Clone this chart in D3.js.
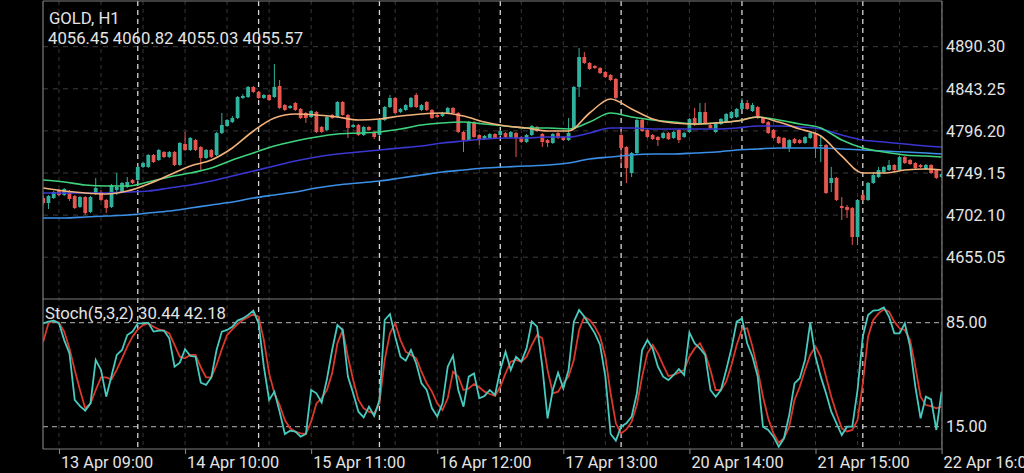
<!DOCTYPE html>
<html><head><meta charset="utf-8">
<script src="https://cdn.jsdelivr.net/npm/d3@7"></script>
<style>
html,body{margin:0;padding:0;background:#000;overflow:hidden}
svg{display:block}
text{font-family:Roboto,"Noto Sans",sans-serif}
</style>
</head><body>
<svg id="c" width="1024" height="473"></svg>
<script>
// ---------------- DATA ----------------
const symbolText = "GOLD, H1";
const ohlcText = "4056.45 4060.82 4055.03 4055.57";
const stochText = "Stoch(5,3,2) 30.44 42.18";

// hourly candles, index 0 = 13 Apr 06:00 ... index 171 = 22 Apr 16:00
const open = [
4721.2,4715.6,4721.2,4730.2,4724.6,4729.0,4723.4,4711.2,4722.3,4705.6,
4726.8,4727.9,4719.0,4711.2,4730.2,4727.9,4733.5,4741.3,4741.3,4755.9,
4755.9,4769.3,4763.7,4772.6,4767.0,4772.6,4758.1,4781.6,4774.9,4786.0,
4778.2,4765.9,4774.9,4769.3,4793.8,4801.7,4806.1,4810.6,4833.0,4834.1,
4845.3,4839.7,4833.0,4836.3,4834.1,4846.4,4825.1,4821.8,4827.4,4820.7,
4816.2,4811.7,4817.3,4800.6,4797.2,4814.0,4811.7,4828.5,4814.0,4800.6,
4802.8,4791.6,4800.6,4795.0,4791.6,4808.4,4822.9,4833.0,4817.3,4819.6,
4822.9,4836.3,4819.6,4828.5,4819.6,4814.0,4812.9,4816.2,4821.8,4816.2,
4795.0,4786.0,4806.1,4791.6,4787.1,4788.3,4792.7,4791.6,4793.8,4789.4,
4793.8,4789.4,4783.8,4791.6,4800.6,4792.7,4786.0,4782.7,4793.8,4789.4,
4786.0,4799.4,4845.3,4878.8,4872.1,4868.7,4866.5,4862.0,4858.7,4854.2,
4791.6,4778.2,4749.1,4771.5,4808.4,4797.2,4791.6,4789.4,4788.3,4793.8,
4788.3,4797.2,4789.4,4795.0,4810.6,4805.0,4817.3,4802.8,4795.0,4803.9,
4806.1,4810.6,4811.7,4820.7,4827.4,4818.4,4822.9,4810.6,4806.1,4797.2,
4789.4,4788.3,4777.1,4787.1,4786.0,4782.7,4788.3,4793.8,4779.3,4780.4,
4738.0,4743.6,4712.3,4711.2,4710.0,4677.6,4724.6,4719.0,4738.0,4744.7,
4750.3,4752.5,4758.1,4752.5,4767.0,4763.7,4760.3,4758.1,4753.6,4758.1,
4752.5,4744.7];
const high = [
4723.4,4724.6,4729.0,4731.3,4732.4,4730.2,4724.6,4723.4,4723.4,4723.4,
4743.6,4730.2,4720.1,4736.9,4749.1,4739.1,4744.7,4742.4,4757.0,4761.4,
4770.4,4770.4,4776.0,4773.7,4773.7,4773.7,4783.8,4795.0,4789.4,4787.1,
4779.3,4776.0,4776.0,4795.0,4816.2,4809.5,4812.9,4835.2,4837.4,4846.4,
4846.4,4840.8,4837.4,4837.4,4871.0,4853.1,4826.3,4825.1,4828.5,4821.8,
4817.3,4819.6,4818.4,4801.7,4812.9,4815.1,4829.6,4829.6,4815.1,4803.9,
4803.9,4801.7,4801.7,4796.1,4809.5,4824.0,4836.3,4834.1,4821.8,4826.3,
4834.1,4838.6,4826.3,4829.6,4820.7,4815.1,4817.3,4822.9,4822.9,4817.3,
4796.1,4807.3,4807.3,4792.7,4791.6,4793.8,4793.8,4797.2,4795.0,4796.1,
4795.0,4790.5,4792.7,4802.8,4801.7,4793.8,4787.1,4793.8,4795.0,4790.5,
4810.6,4846.4,4888.9,4884.4,4873.2,4869.8,4867.6,4863.1,4859.8,4855.3,
4797.2,4779.3,4772.6,4809.5,4809.5,4798.3,4792.7,4790.5,4795.0,4795.0,
4796.1,4798.3,4795.0,4810.6,4821.8,4827.4,4827.4,4803.9,4806.1,4810.6,
4816.2,4818.4,4821.8,4833.0,4830.7,4827.4,4824.0,4811.7,4807.3,4798.3,
4790.5,4789.4,4787.1,4788.3,4787.1,4790.5,4795.0,4795.0,4791.6,4781.6,
4755.9,4744.7,4722.3,4713.4,4711.2,4720.1,4725.7,4739.1,4750.3,4755.9,
4757.0,4763.7,4759.2,4768.1,4768.1,4764.8,4761.4,4759.2,4759.2,4759.2,
4753.6,4749.1];
const low = [
4713.4,4708.9,4720.1,4723.4,4723.4,4717.9,4708.9,4710.0,4702.2,4704.4,
4724.6,4717.9,4704.4,4710.0,4724.6,4726.8,4732.4,4736.9,4739.1,4754.7,
4754.7,4760.3,4762.6,4765.9,4765.9,4757.0,4757.0,4773.7,4773.7,4773.7,
4752.5,4764.8,4765.9,4768.1,4792.7,4800.6,4805.0,4809.5,4831.9,4833.0,
4838.6,4831.9,4831.9,4829.6,4833.0,4820.7,4818.4,4820.7,4818.4,4809.5,
4805.0,4810.6,4793.8,4793.8,4796.1,4809.5,4810.6,4812.9,4788.3,4799.4,
4790.5,4790.5,4796.1,4787.1,4790.5,4807.3,4821.8,4815.1,4816.2,4818.4,
4821.8,4821.8,4818.4,4818.4,4809.5,4810.6,4811.7,4815.1,4815.1,4793.8,
4772.6,4784.9,4788.3,4780.4,4786.0,4787.1,4787.1,4790.5,4788.3,4788.3,
4767.0,4782.7,4782.7,4790.5,4795.0,4778.2,4778.2,4781.6,4787.1,4784.9,
4784.9,4798.3,4834.1,4871.0,4864.3,4865.4,4859.8,4855.3,4852.0,4831.9,
4758.1,4738.0,4744.7,4770.4,4795.0,4788.3,4786.0,4779.3,4787.1,4786.0,
4787.1,4782.7,4788.3,4793.8,4801.7,4803.9,4803.9,4798.3,4793.8,4802.8,
4805.0,4809.5,4810.6,4819.6,4819.6,4817.3,4809.5,4803.9,4792.7,4787.1,
4781.6,4776.0,4772.6,4781.6,4781.6,4781.6,4787.1,4765.9,4761.4,4725.7,
4727.9,4717.9,4696.6,4698.9,4668.7,4668.7,4717.9,4717.9,4736.9,4743.6,
4749.1,4751.4,4751.4,4751.4,4759.2,4758.1,4753.6,4754.7,4752.5,4748.0,
4742.4,4743.6];
const close = [
4715.6,4723.4,4727.9,4724.6,4731.3,4720.1,4710.0,4722.3,4704.4,4722.3,
4732.4,4719.0,4710.0,4735.7,4733.5,4738.0,4739.1,4738.0,4755.9,4760.3,
4769.3,4761.4,4774.9,4767.0,4772.6,4758.1,4782.7,4774.9,4788.3,4774.9,
4765.9,4774.9,4767.0,4793.8,4802.8,4808.4,4810.6,4834.1,4835.2,4845.3,
4839.7,4833.0,4836.3,4830.7,4845.3,4821.8,4819.6,4824.0,4819.6,4810.6,
4810.6,4818.4,4795.0,4795.0,4811.7,4810.6,4828.5,4814.0,4799.4,4802.8,
4791.6,4800.6,4797.2,4789.4,4808.4,4822.9,4833.0,4816.2,4820.7,4825.1,
4833.0,4822.9,4825.1,4819.6,4810.6,4811.7,4816.2,4821.8,4816.2,4795.0,
4786.0,4806.1,4789.4,4786.0,4790.5,4792.7,4788.3,4796.1,4789.4,4795.0,
4788.3,4783.8,4791.6,4801.7,4796.1,4783.8,4782.7,4792.7,4788.3,4786.0,
4793.8,4845.3,4878.8,4872.1,4865.4,4866.5,4860.9,4856.4,4853.1,4833.0,
4777.1,4754.7,4771.5,4808.4,4796.1,4789.4,4787.1,4786.0,4793.8,4787.1,
4795.0,4786.0,4793.8,4809.5,4802.8,4817.3,4805.0,4799.4,4805.0,4809.5,
4815.1,4817.3,4820.7,4827.4,4820.7,4825.1,4810.6,4805.0,4793.8,4788.3,
4782.7,4777.1,4786.0,4782.7,4782.7,4789.4,4793.8,4777.1,4780.4,4726.8,
4743.6,4719.0,4710.0,4707.8,4677.6,4719.0,4719.0,4738.0,4746.9,4752.5,
4755.9,4758.1,4752.5,4767.0,4760.3,4759.2,4754.7,4755.9,4758.1,4749.1,
4743.6,4748.0];

// moving averages, read at these bar indices
const maIdx = [0,4,8,12,16,20,24,28,32,36,40,44,48,52,56,60,64,68,72,76,80,84,88,92,96,100,104,108,112,116,120,124,128,132,136,140,144,148,152,156,160,164,168,171];
const maFast = [4732.4,4729.0,4726.8,4725.7,4729.0,4736.9,4746.9,4757.0,4763.7,4777.1,4796.1,4810.6,4815.1,4814.0,4811.7,4808.4,4809.5,4812.9,4815.1,4816.2,4812.9,4806.1,4801.7,4799.4,4796.1,4796.1,4816.2,4831.9,4820.7,4809.5,4805.0,4803.9,4805.0,4807.3,4811.7,4806.1,4798.3,4790.5,4768.1,4749.1,4749.1,4752.5,4753.6,4752.5];
const maMid = [4741.3,4739.1,4735.7,4734.6,4734.6,4739.1,4744.7,4749.1,4754.7,4763.7,4771.5,4779.3,4784.9,4789.4,4792.7,4793.8,4795.0,4798.3,4802.8,4805.0,4806.1,4803.9,4801.7,4799.4,4799.4,4798.3,4806.1,4816.2,4811.7,4808.4,4806.1,4803.9,4805.0,4807.3,4811.7,4808.4,4803.9,4799.4,4786.0,4777.1,4772.6,4769.3,4768.1,4767.0];
const maSlow = [4726.8,4726.8,4726.8,4726.8,4727.9,4729.0,4732.4,4735.7,4740.2,4745.8,4751.4,4757.0,4762.6,4767.0,4770.4,4772.6,4774.9,4777.1,4779.3,4782.7,4784.9,4787.1,4788.3,4788.3,4789.4,4789.4,4793.8,4799.4,4799.4,4798.3,4798.3,4798.3,4798.3,4799.4,4801.7,4801.7,4800.6,4798.3,4791.6,4786.0,4783.8,4781.6,4779.3,4778.2];
const maLong = [4698.9,4698.9,4700.0,4701.1,4702.2,4704.4,4706.7,4710.0,4713.4,4716.7,4721.2,4724.6,4727.9,4732.4,4735.7,4738.0,4740.2,4743.6,4746.9,4750.3,4752.5,4754.7,4755.9,4757.0,4758.1,4760.3,4764.8,4767.0,4769.3,4770.4,4770.4,4771.5,4772.6,4774.9,4776.0,4777.1,4777.1,4777.1,4776.0,4774.9,4773.7,4772.6,4771.5,4770.4];

// stochastic (5,3,2)
const stochK = [
84.6,85.7,86.4,84.6,73.3,64.4,33.0,28.9,25.8,30.7,
59.9,53.2,35.2,49.1,63.3,66.6,76.7,79.0,84.6,84.6,
85.0,79.0,79.6,79.6,74.5,55.4,58.1,67.1,62.6,62.1,
44.6,43.1,48.2,66.6,79.0,80.1,82.3,86.4,87.9,90.2,
93.1,84.6,55.4,33.0,38.6,25.1,10.1,12.3,11.7,8.3,
10.1,39.7,37.5,31.2,46.9,66.6,83.4,80.1,48.7,37.5,
25.1,21.3,28.5,22.2,33.0,86.8,90.8,75.6,62.1,59.4,
66.6,57.6,44.2,39.7,27.4,21.8,30.7,55.4,62.8,39.7,
28.5,48.7,50.9,34.1,35.7,39.7,36.3,53.2,65.5,53.2,
62.1,58.8,67.7,85.7,82.3,55.4,20.6,39.7,51.4,40.8,
53.2,85.7,93.5,89.0,83.4,77.8,70.0,48.7,10.1,5.6,
15.0,17.3,21.8,37.5,66.6,73.3,67.7,55.4,48.7,46.4,
49.8,53.8,49.8,78.3,71.1,67.7,63.3,39.7,35.2,39.7,
53.2,67.7,85.7,87.9,71.1,62.1,48.7,15.0,12.8,8.3,
1.6,7.2,22.9,44.2,47.6,59.9,85.0,62.1,48.7,37.5,
25.1,17.3,9.4,15.0,15.0,39.7,75.6,90.2,93.1,93.5,
95.3,89.0,77.8,77.8,84.6,68.9,41.9,20.6,35.2,33.4,
12.8,38.6];
const stochD = [
72.2,84.6,86.4,85.0,79.0,67.7,53.2,39.7,27.4,30.7,
39.7,48.2,48.2,46.9,53.2,61.0,68.9,75.6,80.5,83.4,
84.6,82.3,80.5,79.6,77.8,70.0,62.1,61.0,63.3,63.3,
55.0,48.2,48.2,56.5,67.1,76.7,80.5,84.1,86.8,88.6,
90.8,89.0,73.3,50.9,37.5,29.6,19.5,13.9,11.7,10.5,
10.1,18.4,30.7,34.1,39.7,50.9,71.1,80.1,62.1,46.4,
33.0,27.4,25.1,24.0,30.7,59.9,77.8,84.6,73.3,65.5,
63.3,61.0,52.0,44.2,38.6,30.7,26.2,34.1,52.0,48.7,
39.7,40.8,43.7,41.5,38.6,37.0,35.7,41.9,50.9,58.8,
59.9,58.8,62.1,70.0,76.7,74.5,53.2,37.5,38.6,44.2,
48.7,59.9,80.1,89.0,86.8,82.3,75.6,62.1,37.5,17.3,
10.5,13.2,18.4,29.6,48.7,64.4,70.0,64.4,56.5,49.1,
49.8,51.4,53.2,62.1,67.7,71.1,64.4,53.2,39.7,39.7,
45.3,56.5,70.0,80.5,81.2,68.9,53.2,35.2,20.6,10.5,
4.3,7.2,15.0,33.0,41.9,53.2,63.3,68.9,62.1,48.7,
35.2,24.0,13.9,11.7,12.8,19.5,44.2,75.6,86.8,91.3,
94.0,92.4,85.7,81.2,80.1,73.3,55.4,35.2,29.6,28.9,
27.4,28.5];

const priceTicks = [4890.30, 4843.25, 4796.20, 4749.15, 4702.10, 4655.05];
const stochTicks = [85, 15];
const timeLabels = ["13 Apr 09:00","14 Apr 10:00","15 Apr 11:00","16 Apr 12:00","17 Apr 13:00","20 Apr 14:00","21 Apr 15:00","22 Apr 16:00"];
const timeLabelIdx = [3,27,51,75,99,123,147,171];
const daySepIdx = [18,41,64,87,110,133,156];
const gridStep = 8;

// ---------------- LAYOUT ----------------
const L = 43, R = 942, pTop = 1, pBot = 298, sTop = 300, sBot = 449;
const svg = d3.select("#c");
const n = open.length;
const x = d3.scaleLinear().domain([0, 171]).range([43.2, 941.6]);
const yP = d3.scaleLinear().domain([4655.05, 4890.30]).range([257.2, 46.7]);
const yS = d3.scaleLinear().domain([0, 100]).range([sBot, 300.4]);

const UP = "#2fb29d", DOWN = "#e6564f";
const textCol = "#e4e4e4";

svg.append("rect").attr("width",1024).attr("height",473).attr("fill","#000");

const defs = svg.append("defs");
defs.append("clipPath").attr("id","cp").append("rect").attr("x",L).attr("y",pTop).attr("width",R-L).attr("height",pBot-pTop);
defs.append("clipPath").attr("id","cs").append("rect").attr("x",L).attr("y",sTop).attr("width",R-L).attr("height",sBot-sTop);

// grid: price horizontal
const grid = svg.append("g");
grid.selectAll("line.hp").data(priceTicks).join("line")
  .attr("x1",L).attr("x2",R).attr("y1",d=>yP(d)).attr("y2",d=>yP(d))
  .attr("stroke","#3c3c3c").attr("stroke-dasharray","5,5");
// stoch levels
grid.selectAll("line.hs").data(stochTicks).join("line")
  .attr("x1",L).attr("x2",R).attr("y1",d=>yS(d)).attr("y2",d=>yS(d))
  .attr("stroke","#b8b8b8").attr("stroke-dasharray","5,4");
// faint vertical grid
const vIdx = d3.range(3, n, gridStep);
grid.selectAll("line.v").data(vIdx).join("line")
  .attr("x1",d=>x(d)).attr("x2",d=>x(d)).attr("y1",pTop).attr("y2",sBot)
  .attr("stroke","#363636").attr("stroke-dasharray","4,4");
// day separators
grid.selectAll("line.d").data(daySepIdx).join("line")
  .attr("x1",d=>x(d)).attr("x2",d=>x(d)).attr("y1",pTop).attr("y2",sBot)
  .attr("stroke","#d6d6d6").attr("stroke-width",1.3).attr("stroke-dasharray","5,4");

// candles
const gc = svg.append("g").attr("clip-path","url(#cp)");
const idx = d3.range(n);
const col = i => close[i] >= open[i] ? UP : DOWN;
gc.selectAll("line.w").data(idx).join("line")
  .attr("x1",i=>x(i)).attr("x2",i=>x(i))
  .attr("y1",i=>yP(high[i])).attr("y2",i=>yP(low[i]))
  .attr("stroke",col).attr("stroke-width",1);
gc.selectAll("rect.b").data(idx).join("rect")
  .attr("x",i=>x(i)-1.9).attr("width",3.8)
  .attr("y",i=>yP(Math.max(open[i],close[i])))
  .attr("height",i=>Math.max(1, Math.abs(yP(open[i])-yP(close[i]))))
  .attr("fill",col);

// moving averages
const maLine = d3.line().x((d,k)=>x(maIdx[k])).y(d=>yP(d)).curve(d3.curveMonotoneX);
[[maLong,"#3b8fe6"],[maSlow,"#3a36d2"],[maMid,"#3fd27c"],[maFast,"#f3b27c"]].forEach(([arr,c])=>{
  gc.append("path").datum(arr).attr("d",maLine).attr("fill","none")
    .attr("stroke",c).attr("stroke-width",1.6);
});

// stochastic
const gs = svg.append("g").attr("clip-path","url(#cs)");
const sLine = d3.line().x((d,i)=>x(i)).y(d=>yS(d));
gs.append("path").datum(stochD).attr("d",sLine).attr("fill","none").attr("stroke","#d8392c").attr("stroke-width",1.8);
gs.append("path").datum(stochK).attr("d",sLine).attr("fill","none").attr("stroke","#48cabe").attr("stroke-width",1.8);

// frame
const fr = svg.append("g").attr("stroke","#7c7c7c").attr("stroke-width",1.2);
fr.append("line").attr("x1",L).attr("x2",R).attr("y1",pTop).attr("y2",pTop);
fr.append("line").attr("x1",L).attr("x2",L).attr("y1",pTop).attr("y2",sBot);
fr.append("line").attr("x1",R).attr("x2",R).attr("y1",pTop).attr("y2",sBot);
fr.append("line").attr("x1",L).attr("x2",R).attr("y1",299).attr("y2",299);
fr.append("line").attr("x1",L).attr("x2",R).attr("y1",sBot).attr("y2",sBot);

// axes
function styleAxis(g){
  g.select(".domain").remove();
  g.selectAll("text").attr("fill",textCol).style("font-size","16.3px").style("font-family","Roboto, 'Noto Sans', sans-serif");
  g.selectAll("line").attr("stroke","#8a8a8a");
}
svg.append("g").attr("transform",`translate(${R},0)`)
  .call(d3.axisRight(yP).tickValues(priceTicks).tickFormat(d3.format(".2f")).tickSize(0).tickPadding(4))
  .call(styleAxis);
svg.append("g").attr("transform",`translate(${R},0)`)
  .call(d3.axisRight(yS).tickValues(stochTicks).tickFormat(d3.format(".2f")).tickSize(0).tickPadding(4))
  .call(styleAxis);
svg.append("g").attr("transform",`translate(0,${sBot})`)
  .call(d3.axisBottom(x).tickValues(timeLabelIdx).tickFormat((d,i)=>timeLabels[i]).tickSize(5).tickPadding(5))
  .call(styleAxis)
  .call(g=>g.selectAll("text").attr("text-anchor","start").attr("x",1.5).attr("dy","0.71em").attr("y",7));

// header texts
const ht = svg.append("g").attr("fill",textCol).style("font-size","16.7px");
ht.append("text").attr("x",49).attr("y",24).text(symbolText);
ht.append("text").attr("x",48).attr("y",44).text(ohlcText);
ht.append("text").attr("x",45).attr("y",319).text(stochText);
</script>
</body></html>
